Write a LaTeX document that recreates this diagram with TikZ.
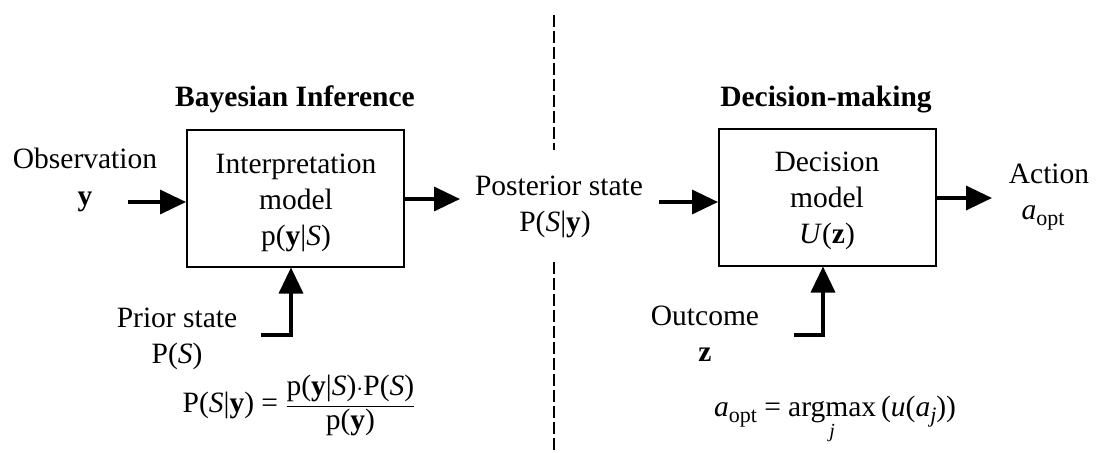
\documentclass[tikz,border=0pt]{standalone}
\usepackage{fontspec}
\setmainfont{Liberation Serif}
\usetikzlibrary{arrows.meta}
% lowered, moderately reduced subscript used for a_opt and a_j
\newcommand{\lowsub}[1]{\raisebox{-0.22em}{\fontsize{22}{22}\selectfont #1}}
\begin{document}
\begin{tikzpicture}[x=1pt,y=-1pt,
  lbl/.style={anchor=base,inner sep=0pt,font=\fontsize{29.5}{36}\selectfont},
  head/.style={anchor=base,inner sep=0pt,font=\fontsize{29.5}{36}\selectfont\bfseries},
  blk/.style={draw,line width=2pt,minimum width=217pt,minimum height=137pt,inner sep=0pt},
  arr/.style={line width=3.5pt,-{Triangle[length=26pt,width=24pt]}},
  divider/.style={line width=1.8pt,dash pattern=on 12pt off 4pt}]
\useasboundingbox (0,0) rectangle (1099,452);

% headings
\node[head] (hbayes) at (295,106) {Bayesian Inference};
\node[head] (hdec) at (826,106) {Decision-making};

% dividing line, broken around the posterior label
\coordinate (divT) at (554,15);
\coordinate (divA) at (554,150);
\coordinate (divB) at (554,262);
\coordinate (divE) at (554,452);
\draw[divider] (divT) -- (divA);
\draw[divider] (divB) -- (divE);

% model blocks
\node[blk] (interp) at (295.5,198) {};
\node[blk] (decis) at (827.5,197) {};

% block texts
\node[lbl] (i1) at (296,173) {Interpretation};
\node[lbl] (i2) at (296,209) {model};
\node[lbl] (i3) at (296,245) {p(\textbf{y}|\textit{S})};
\node[lbl] (d1) at (827,171) {Decision};
\node[lbl] (d2) at (827,207) {model};
\node[lbl] (d3) at (827,243) {\textit{U}(\textbf{z})};

% inputs and outputs
\node[lbl] (obs1) at (85,168) {Observation};
\node[lbl] (obs2) at (85,205) {\textbf{y}};
\node[lbl] (post1) at (559,195) {Posterior state};
\node[lbl] (post2) at (555,231) {P(\textit{S}|\textbf{y})};
\node[lbl] (pri1) at (177,327) {Prior state};
\node[lbl] (pri2) at (177,363) {P(\textit{S})};
\node[lbl] (out1) at (705,325) {Outcome};
\node[lbl] (out2) at (705,361) {\textbf{z}};
\node[lbl] (act1) at (1049,183) {Action};
\node[lbl] (act2) at (1043,219) {\textit{a}\lowsub{opt}};

% formulas
\node[lbl] (bayes) at (299,412)
  {P(\textit{S}|\textbf{y}) = $\displaystyle\frac{\mbox{p(\textbf{y}|\textit{S})$\cdot$P(\textit{S})}}{\mbox{p(\textbf{y})}}$};
\node[lbl] (argmax) at (835,416)
  {\textit{a}\lowsub{opt} = $\mathop{\mbox{argmax}}\limits_{\mbox{\fontsize{20}{20}\selectfont\itshape j}}$\,(\textit{u}(\textit{a}\lowsub{\itshape j}))};

% connectors
\coordinate (obsS) at (128,202);
\draw[arr] (obsS) -- (obsS -| interp.west);
\coordinate (postE) at (460,199);
\draw[arr] (postE -| interp.east) -- (postE);
\coordinate (priorS) at (261,335);
\coordinate (priorK) at (291,335);
\draw[arr] (priorS) -- (priorK) -- (priorK |- interp.south);

\coordinate (postS) at (659,202);
\draw[arr] (postS) -- (postS -| decis.west);
\coordinate (actE) at (992,198);
\draw[arr] (actE -| decis.east) -- (actE);
\coordinate (outS) at (794,335);
\coordinate (outK) at (823,335);
\draw[arr] (outS) -- (outK) -- (outK |- decis.south);
\end{tikzpicture}
\end{document}
